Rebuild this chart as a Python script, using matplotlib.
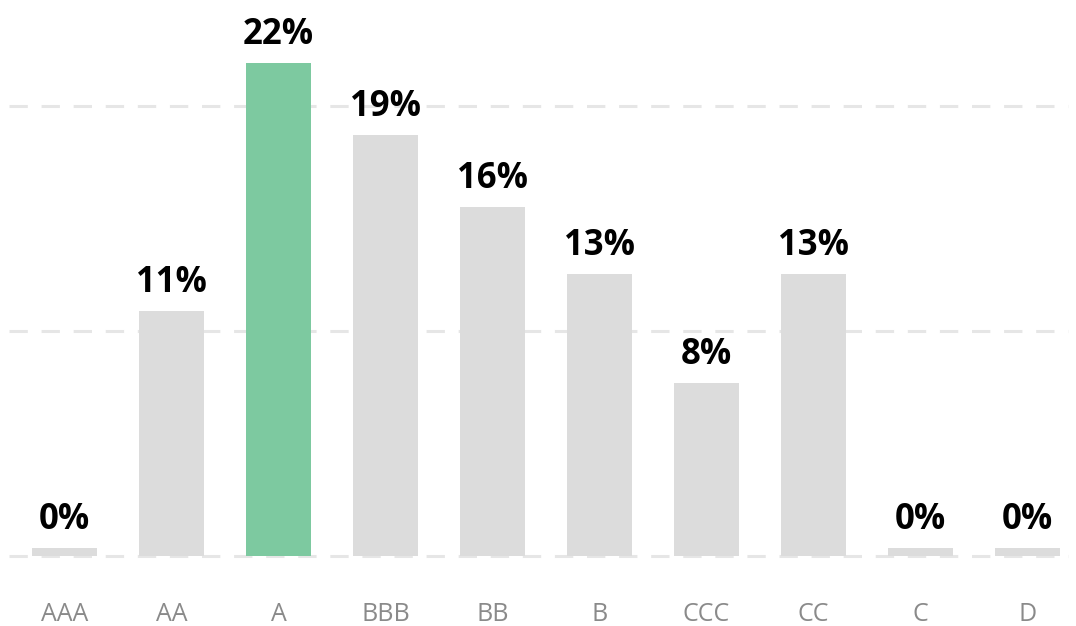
import matplotlib
matplotlib.use("Agg")
import matplotlib.pyplot as plt

# rating buckets and their share (%)
ratings = ["AAA", "AA", "A", "BBB", "BB", "B", "CCC", "CC", "C", "D"]
shares = [0, 10.9, 21.9, 18.7, 15.5, 12.51, 7.7, 12.51, 0, 0]
highlight = "A"
gridlines = [0, 10, 20]

plt.rcParams['font.family'] = ['Open Sans', 'DejaVu Sans']

fig = plt.figure(figsize=(10.76, 6.26), dpi=100)
ax = fig.add_axes([9 / 1076, 70 / 626, 1059 / 1076, 556 / 626])

colors = ["#7dc9a0" if r == highlight else "#dcdcdc" for r in ratings]
# empty buckets still get a thin stub so they are visible
heights = [max(v, 0.34) for v in shares]
x = list(range(len(ratings)))
ax.bar(x, heights, width=0.607, color=colors, zorder=2)

for xi, h, v in zip(x, heights, shares):
    ax.annotate(f"{round(v)}%", (xi, h), xytext=(0, 13.7), textcoords="offset points",
                ha="center", va="baseline", fontsize=25, fontweight="bold",
                color="black")

for g in gridlines:
    ax.axhline(g, color="#e6e6e6", lw=2.2, dashes=(6, 4.5), zorder=1,
               clip_on=False)

ax.set_xlim(-0.52, 9.38)
ax.set_ylim(0, 24.7)
ax.set_xticks(x)
ax.set_xticklabels(ratings, fontsize=18, color="#8a8a8a")
ax.tick_params(axis="x", length=0, pad=33)
ax.set_yticks([])
for s in ax.spines.values():
    s.set_visible(False)
ax.patch.set_alpha(0)

fig.savefig("out.png", dpi=100)
